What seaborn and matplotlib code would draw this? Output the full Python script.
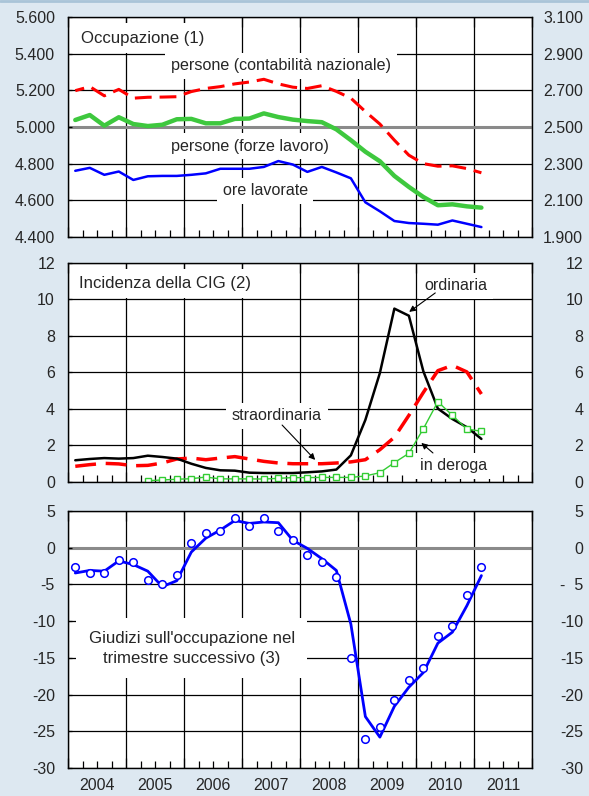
import numpy as np
import pandas as pd
import matplotlib
matplotlib.use('Agg')
import matplotlib.pyplot as plt
from matplotlib.lines import Line2D
from matplotlib.ticker import FixedLocator, FixedFormatter
import seaborn as sns

# quarterly observations 2004Q1 - 2011Q1
years = list(range(2004, 2012))
quarters = [f"{y}Q{q}" for y in years for q in range(1, 5)][:29]

# panel 1: occupazione (left axis, persone; right axis, ore lavorate)
pers_cn = [5198, 5220, 5170, 5205, 5157, 5162, 5163, 5165, 5193, 5210, 5220, 5235, 5245, 5260, 5235,
           5217, 5210, 5225, 5194, 5157, 5084, 5016, 4928, 4846, 4800, 4786, 4788, 4773, 4750]
pers_fl = [5038, 5065, 5007, 5053, 5016, 5005, 5012, 5042, 5044, 5020, 5020, 5044, 5046, 5074, 5054,
           5040, 5032, 5026, 4987, 4928, 4865, 4813, 4733, 4673, 4618, 4573, 4578, 4567, 4560]
ore_lav = [2261, 2277, 2239, 2257, 2211, 2231, 2233, 2233, 2239, 2247, 2272, 2272, 2272, 2282, 2314,
           2295, 2255, 2282, 2252, 2220, 2089, 2040, 1987, 1976, 1972, 1967, 1990, 1972, 1954]

# panel 2: incidenza della CIG
cig_ord = [1.19, 1.26, 1.31, 1.28, 1.31, 1.44, 1.37, 1.28, 1.00, 0.77, 0.64, 0.62, 0.51, 0.49, 0.49,
           0.49, 0.53, 0.58, 0.68, 1.46, 3.40, 5.97, 9.50, 9.11, 6.06, 4.02, 3.45, 3.00, 2.36]
cig_straord = [0.86, 0.95, 1.02, 0.99, 0.89, 0.91, 1.04, 1.26, 1.31, 1.22, 1.31, 1.39, 1.26, 1.13, 1.04,
               1.00, 1.00, 1.00, 1.04, 1.10, 1.22, 1.77, 2.45, 3.65, 4.91, 6.10, 6.39, 6.03, 4.82]
cig_deroga = [np.nan] * 5 + [0.07, 0.11, 0.15, 0.18, 0.27, 0.17, 0.17, 0.17, 0.16, 0.20, 0.24, 0.24,
                             0.25, 0.25, 0.25, 0.33, 0.51, 1.06, 1.57, 2.92, 4.40, 3.65, 2.90, 2.78]

# panel 3: giudizi sull'occupazione (media mobile e dati puntuali)
giudizi_mm = [-3.45, -3.1, -3.2, -1.8, -2.3, -3.2, -5.3, -4.5, -0.6, 1.3, 2.4, 3.7, 3.3, 3.5, 3.4,
              1.0, -0.1, -1.5, -3.1, -10.4, -23.0, -25.8, -21.6, -19.0, -17.0, -13.0, -11.5, -7.9, -3.8]
giudizi = [-2.7, -3.4, -3.4, -1.7, -2.0, -4.4, -5.0, -3.7, 0.7, 2.0, 2.3, 4.0, 3.0, 4.0, 2.3,
           1.0, -1.05, -2.0, -4.0, -15.0, -26.0, -24.4, -20.7, -18.0, -16.4, -12.0, -10.7, -6.4, -2.7]

ticks_1l = [4400, 4600, 4800, 5000, 5200, 5400, 5600]
labels_1l = ['4.400', '4.600', '4.800', '5.000', '5.200', '5.400', '5.600']
ticks_1r = [1900, 2100, 2300, 2500, 2700, 2900, 3100]
labels_1r = ['1.900', '2.100', '2.300', '2.500', '2.700', '2.900', '3.100']
ticks_2 = [0, 2, 4, 6, 8, 10, 12]
labels_2 = ['0', '2', '4', '6', '8', '10', '12']
ticks_3 = [-30, -25, -20, -15, -10, -5, 0, 5]
labels_3l = ['-30', '-25', '-20', '-15', '-10', '-5', '0', '5']
labels_3r = ['-30', '-25', '-20', '-15', '-10', '-  5', '0', '5']

BG = '#dde8f1'
RED = '#ff0000'
GREEN = '#3ec83e'
BLUE = '#0000ff'
TICK_FS = 11.5
TEXT_FS = 11.6
TITLE_FS = 12.1

sns.set_style('white')
plt.rcParams['font.family'] = ['Liberation Sans', 'DejaVu Sans']
plt.rcParams['font.size'] = TEXT_FS


def qpos(q):
    return int(q[:4]) + (int(q[-1]) - 0.5) / 4


df = pd.DataFrame({'trimestre': quarters, 'pos': [qpos(q) for q in quarters],
                   'pers_cn': pers_cn, 'pers_fl': pers_fl, 'ore_lav': ore_lav,
                   'cig_ord': cig_ord, 'cig_straord': cig_straord, 'cig_deroga': cig_deroga,
                   'giudizi_mm': giudizi_mm, 'giudizi': giudizi})


def style_axes(ax, ylim, yticks, ylabels, rlim, rticks, rlabels, show_years=False):
    ax.set_facecolor('white')
    ax.set_xlim(2004, 2012)
    ax.set_ylim(*ylim)
    ax.xaxis.set_major_locator(FixedLocator(list(range(2004, 2013))))
    ax.xaxis.set_major_formatter(FixedFormatter([''] * 9))
    ax.xaxis.set_minor_locator(FixedLocator([y + f for y in years for f in (0.25, 0.5, 0.75)]))
    if show_years:
        ax.xaxis.set_minor_formatter(FixedFormatter([s for y in years for s in ('', str(y), '')]))
    else:
        ax.xaxis.set_minor_formatter(FixedFormatter([''] * 24))
    ax.tick_params(axis='x', which='major', direction='in', length=7, width=0.9,
                   top=True, bottom=True, color='black')
    ax.tick_params(axis='x', which='minor', direction='in', length=5, width=0.9,
                   top=False, bottom=True, color='black', pad=7.5, labelsize=TICK_FS)
    ax.set_yticks(yticks)
    ax.set_yticklabels(ylabels)
    ax.tick_params(axis='y', direction='in', length=3, width=0.9, left=True, right=False,
                   pad=9.4, labelsize=TICK_FS, color='black')
    ax.grid(True, which='major', color='black', lw=0.9)
    ax.set_axisbelow(True)
    for s in ax.spines.values():
        s.set_color('black')
        s.set_linewidth(1.0)
    tw = ax.twinx()
    tw.set_ylim(*rlim)
    tw.set_yticks(rticks)
    tw.set_yticklabels(rlabels)
    tw.grid(False)
    tw.tick_params(axis='y', length=0, right=True, pad=36.7, labelsize=TICK_FS)
    for t in tw.get_yticklabels():
        t.set_horizontalalignment('right')
    for s in tw.spines.values():
        s.set_visible(False)
    return tw


def grey_gridline(ax, idx):
    gl = ax.get_ygridlines()[idx]
    gl.set_color('#8a8a8a')
    gl.set_linewidth(2.2)


fig = plt.figure(figsize=(5.89, 7.96), dpi=100, facecolor=BG)
ax1 = fig.add_axes([0.1155, 0.7023, 0.788, 0.2764])
ax2 = fig.add_axes([0.1155, 0.3945, 0.788, 0.2751])
ax3 = fig.add_axes([0.1155, 0.0352, 0.788, 0.3229])

box = dict(boxstyle='square,pad=0.35', fc='white', ec='none')
title_box = dict(boxstyle='square,pad=0.42', fc='white', ec='none')

# --- panel 1
tw1 = style_axes(ax1, (4400, 5600), ticks_1l, labels_1l, (1900, 3100), ticks_1r, labels_1r)
grey_gridline(ax1, 3)
sns.lineplot(data=df, x='pos', y='pers_cn', ax=ax1, color=RED, lw=2.2,
             linestyle=(2.5, (5.5, 2.6)), errorbar=None, sort=False)
sns.lineplot(data=df, x='pos', y='pers_fl', ax=ax1, color=GREEN, lw=3.2, errorbar=None, sort=False)
sns.lineplot(data=df, x='pos', y='ore_lav', ax=tw1, color=BLUE, lw=1.8, errorbar=None, sort=False)
ax1.text(2004.22, 5485, 'Occupazione (1)', ha='left', va='center', zorder=1.5,
         fontsize=TITLE_FS, bbox=title_box)
ax1.text(2007.67, 5333, 'persone (contabilità nazionale)', ha='center', va='center', zorder=1.5, bbox=box)
ax1.text(2007.14, 4896, 'persone (forze lavoro)', ha='center', va='center', zorder=1.5, bbox=box)
ax1.text(2007.40, 4651, 'ore lavorate', ha='center', va='center', zorder=1.5, bbox=box)

# --- panel 2
tw2 = style_axes(ax2, (0, 12), ticks_2, labels_2, (0, 12), ticks_2, labels_2)
sns.lineplot(data=df, x='pos', y='cig_straord', ax=ax2, color=RED, lw=2.5,
             linestyle=(0, (6, 2.8)), errorbar=None, sort=False)
sns.lineplot(data=df, x='pos', y='cig_ord', ax=ax2, color='black', lw=1.8, errorbar=None, sort=False)
sns.lineplot(data=df.dropna(subset=['cig_deroga']), x='pos', y='cig_deroga', ax=ax2, color='#33cc33',
             lw=1.0, marker='s', markersize=5, markerfacecolor='white', markeredgecolor='#33cc33',
             markeredgewidth=1.0, errorbar=None, sort=False)
ax2.text(2004.19, 10.9, 'Incidenza della CIG (2)', ha='left', va='center', zorder=1.5,
         fontsize=TITLE_FS, bbox=title_box)
arrow = dict(arrowstyle='-|>', color='black', lw=0.8, mutation_scale=9, shrinkA=0, shrinkB=0)
ax2.text(2010.69, 10.74, 'ordinaria', ha='center', va='center', zorder=1.5, bbox=box)
ax2.annotate('', xy=(2009.88, 9.32), xytext=(2010.33, 10.36), arrowprops=arrow)
ax2.text(2007.60, 3.62, 'straordinaria', ha='center', va='center', zorder=1.5, bbox=box)
ax2.annotate('', xy=(2008.26, 1.21), xytext=(2007.69, 3.12), arrowprops=arrow)
ax2.text(2010.64, 0.88, 'in deroga', ha='center', va='center', zorder=1.5, bbox=box)
ax2.annotate('', xy=(2010.09, 2.14), xytext=(2010.29, 1.59), arrowprops=arrow)

# --- panel 3
tw3 = style_axes(ax3, (-30, 5), ticks_3, labels_3l, (-30, 5), ticks_3, labels_3r, show_years=True)
grey_gridline(ax3, 6)
sns.lineplot(data=df, x='pos', y='giudizi_mm', ax=ax3, color=BLUE, lw=2.0, errorbar=None, sort=False)
sns.scatterplot(data=df, x='pos', y='giudizi', ax=ax3, color='white', edgecolor=BLUE,
                linewidth=1.1, s=30, marker='o', zorder=3)
ax3.text(2006.13, -13.7, "Giudizi sull'occupazione nel\ntrimestre successivo (3)", ha='center',
         va='center', multialignment='center', zorder=1.5, linespacing=1.4, fontsize=TITLE_FS,
         bbox=dict(boxstyle='square,pad=0.75', fc='white', ec='none'))

for a in (ax1, ax2, ax3, tw1, tw2, tw3):
    a.set_xlabel('')
    a.set_ylabel('')

fig.add_artist(Line2D([0, 1], [0.999, 0.999], transform=fig.transFigure, color='#a9c4d8', lw=2))

fig.savefig('out.png', dpi=100, facecolor=BG)
